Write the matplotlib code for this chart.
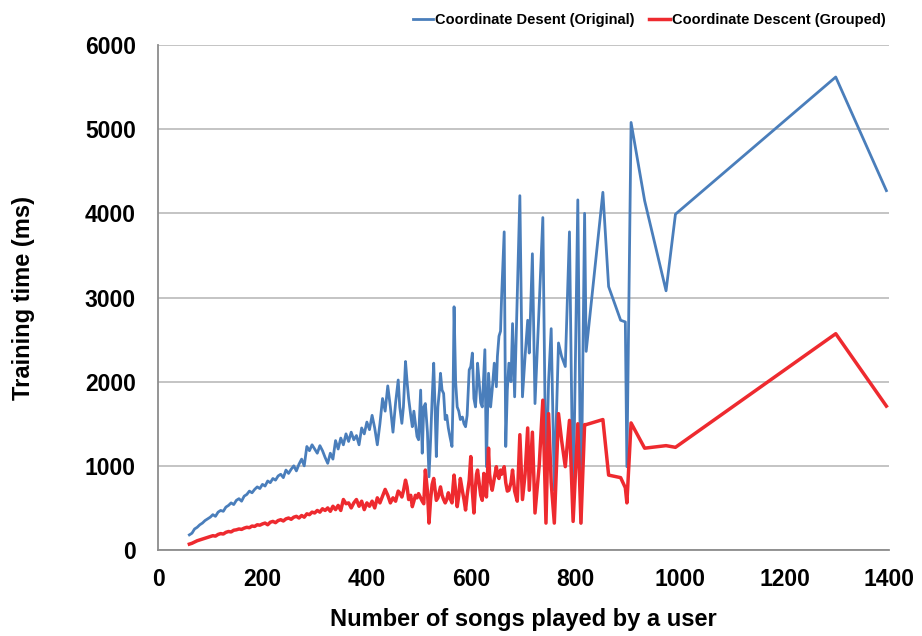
import matplotlib
matplotlib.use("Agg")
import matplotlib.pyplot as plt

plt.rcParams['font.family'] = ['Liberation Sans', 'DejaVu Sans']
plt.rcParams['font.weight'] = 'bold'

# songs played per user (shared x for both series)
songs = [60, 65, 70, 75, 80, 85, 90, 95, 100, 105, 110, 115, 120, 125, 130, 135, 140, 145,
         150, 155, 160, 165, 170, 175, 180, 185, 190, 195, 200, 205, 210, 215, 220, 225,
         230, 235, 240, 245, 250, 255, 260, 265, 270, 275, 280, 285, 290, 295, 300, 305,
         310, 315, 320, 325, 330, 335, 340, 345, 350, 355, 360, 365, 370, 375, 380, 385,
         390, 395, 400, 405, 410, 415, 420, 425, 430, 435, 440, 445, 450, 455, 460, 463,
         467, 470, 474, 477, 480, 484, 487, 490, 493, 496, 499, 503, 506, 509, 512, 516,
         519, 522, 525, 528, 531, 533, 536, 539, 541, 544, 547, 550, 553, 556, 559, 563,
         565, 567, 570, 573, 576, 579, 583, 586, 589, 592, 596, 599, 602, 605, 608, 610,
         612, 615, 618, 621, 624, 626, 629, 631, 633, 635, 637, 640, 644, 648, 650, 653,
         656, 658, 663, 666, 669, 672, 676, 679, 683, 688, 693, 698, 703, 708, 711, 717,
         722, 730, 737, 743, 748, 753, 759, 767, 773, 780, 788, 795, 804, 810, 817, 820,
         852, 863, 886, 895, 898, 906, 932, 973, 991, 1298, 1395]

# training time, original coordinate descent (ms)
original = [180, 200, 250, 270, 300, 320, 350, 370, 390, 420, 400, 450, 470, 460, 510, 530, 560, 540,
            590, 610, 580, 640, 660, 700, 680, 720, 750, 730, 780, 760, 820, 800, 850, 830,
            880, 900, 860, 950, 910, 960, 1000, 940, 1020, 1080, 1000, 1230, 1180, 1250, 1200, 1150,
            1240, 1180, 1100, 1030, 1150, 1080, 1300, 1200, 1330, 1250, 1380, 1290, 1400, 1310, 1360, 1250,
            1450, 1380, 1520, 1430, 1600, 1450, 1250, 1500, 1800, 1650, 1950, 1700, 1400, 1750, 2020, 1700,
            1505, 1700, 2240, 2000, 1800, 1600, 1465, 1650, 1500, 1350, 1310, 1900, 1150, 1700, 1740, 1400,
            870, 1300, 1800, 2220, 1600, 1110, 1700, 1900, 2100, 1900, 1860, 1550, 1600, 1450, 1350, 1230,
            1800, 2890, 2000, 1700, 1650, 1550, 1580, 1500, 1465, 1600, 2140, 2180, 2340, 1800, 1700, 1900,
            2220, 2000, 1750, 1700, 2100, 2380, 990, 1600, 2100, 1900, 1700, 1900, 2220, 1940, 2300, 2540,
            2600, 3000, 3780, 1230, 1900, 2220, 2000, 2690, 1820, 3000, 4210, 1820, 2300, 2730, 2340, 3520,
            1740, 2900, 3950, 750, 2000, 2630, 710, 2460, 2300, 2180, 3780, 440, 4160, 320, 4000, 2360,
            4250, 3130, 2730, 2710, 990, 5080, 4150, 3080, 3990, 5620, 4270]

# training time, grouped coordinate descent (ms)
grouped = [70, 80, 95, 110, 120, 130, 140, 150, 160, 170, 165, 185, 195, 190, 210, 220, 215, 235,
           240, 250, 245, 260, 270, 265, 285, 280, 300, 295, 310, 320, 300, 330, 340, 325,
           350, 360, 345, 370, 380, 365, 390, 400, 380, 410, 390, 430, 420, 450, 440, 470,
           450, 490, 470, 500, 460, 520, 480, 530, 470, 600, 550, 560, 500, 560, 600, 520,
           580, 480, 560, 520, 580, 500, 620, 560, 640, 720, 650, 560, 620, 580, 700, 680,
           630, 700, 830, 750, 600, 650, 515, 580, 650, 620, 670, 620, 580, 550, 950, 700,
           320, 600, 780, 850, 700, 590, 620, 700, 750, 650, 600, 560, 600, 680, 620, 560,
           750, 890, 700, 515, 650, 850, 700, 600, 475, 650, 830, 1110, 700, 440, 750, 900,
           950, 800, 650, 590, 910, 750, 630, 900, 1210, 900, 800, 710, 850, 990, 900, 850,
           950, 900, 990, 800, 700, 710, 800, 950, 700, 580, 1370, 600, 900, 1450, 710, 1400,
           440, 1000, 1780, 320, 1620, 800, 320, 1620, 1300, 990, 1540, 340, 1500, 320, 1490, 1490,
           1550, 890, 860, 740, 560, 1510, 1210, 1240, 1220, 2570, 1710]

fig = plt.figure(figsize=(9.22, 6.36), dpi=100)
ax = fig.add_axes([0.1714, 0.1352, 0.7928, 0.794])

ax.plot(songs, original, color='#4A7EBB', lw=2.0, label='Coordinate Desent (Original)')
ax.plot(songs, grouped, color='#EE2A2F', lw=2.5, label='Coordinate Descent (Grouped)')

ax.set_xlim(0, 1400)
ax.set_ylim(0, 6000)
ax.set_xticks(range(0, 1401, 200))
ax.set_yticks(range(0, 6001, 1000))
ax.yaxis.grid(True, color='#BFBFBF', lw=1.3)
ax.set_axisbelow(True)
for s in ['top', 'right']:
    ax.spines[s].set_visible(False)
for s in ['left', 'bottom']:
    ax.spines[s].set_color('#8C8C8C')
    ax.spines[s].set_linewidth(1.3)
ax.tick_params(length=0, labelsize=16.5)
ax.tick_params(axis='y', pad=16)
ax.tick_params(axis='x', pad=13)
for lab in ax.get_xticklabels() + ax.get_yticklabels():
    lab.set_fontweight('bold')

ax.set_xlabel('Number of songs played by a user', fontsize=17, fontweight='bold', labelpad=12)
ax.set_ylabel('Training time (ms)', fontsize=17, fontweight='bold', labelpad=36)

fig.legend(loc='upper right', bbox_to_anchor=(0.975, 1.0), ncol=2, frameon=False,
           handlelength=1.4, handletextpad=0.15, columnspacing=1.0,
           prop={'weight': 'bold', 'size': 10.5})

fig.savefig('out.png', dpi=100)
